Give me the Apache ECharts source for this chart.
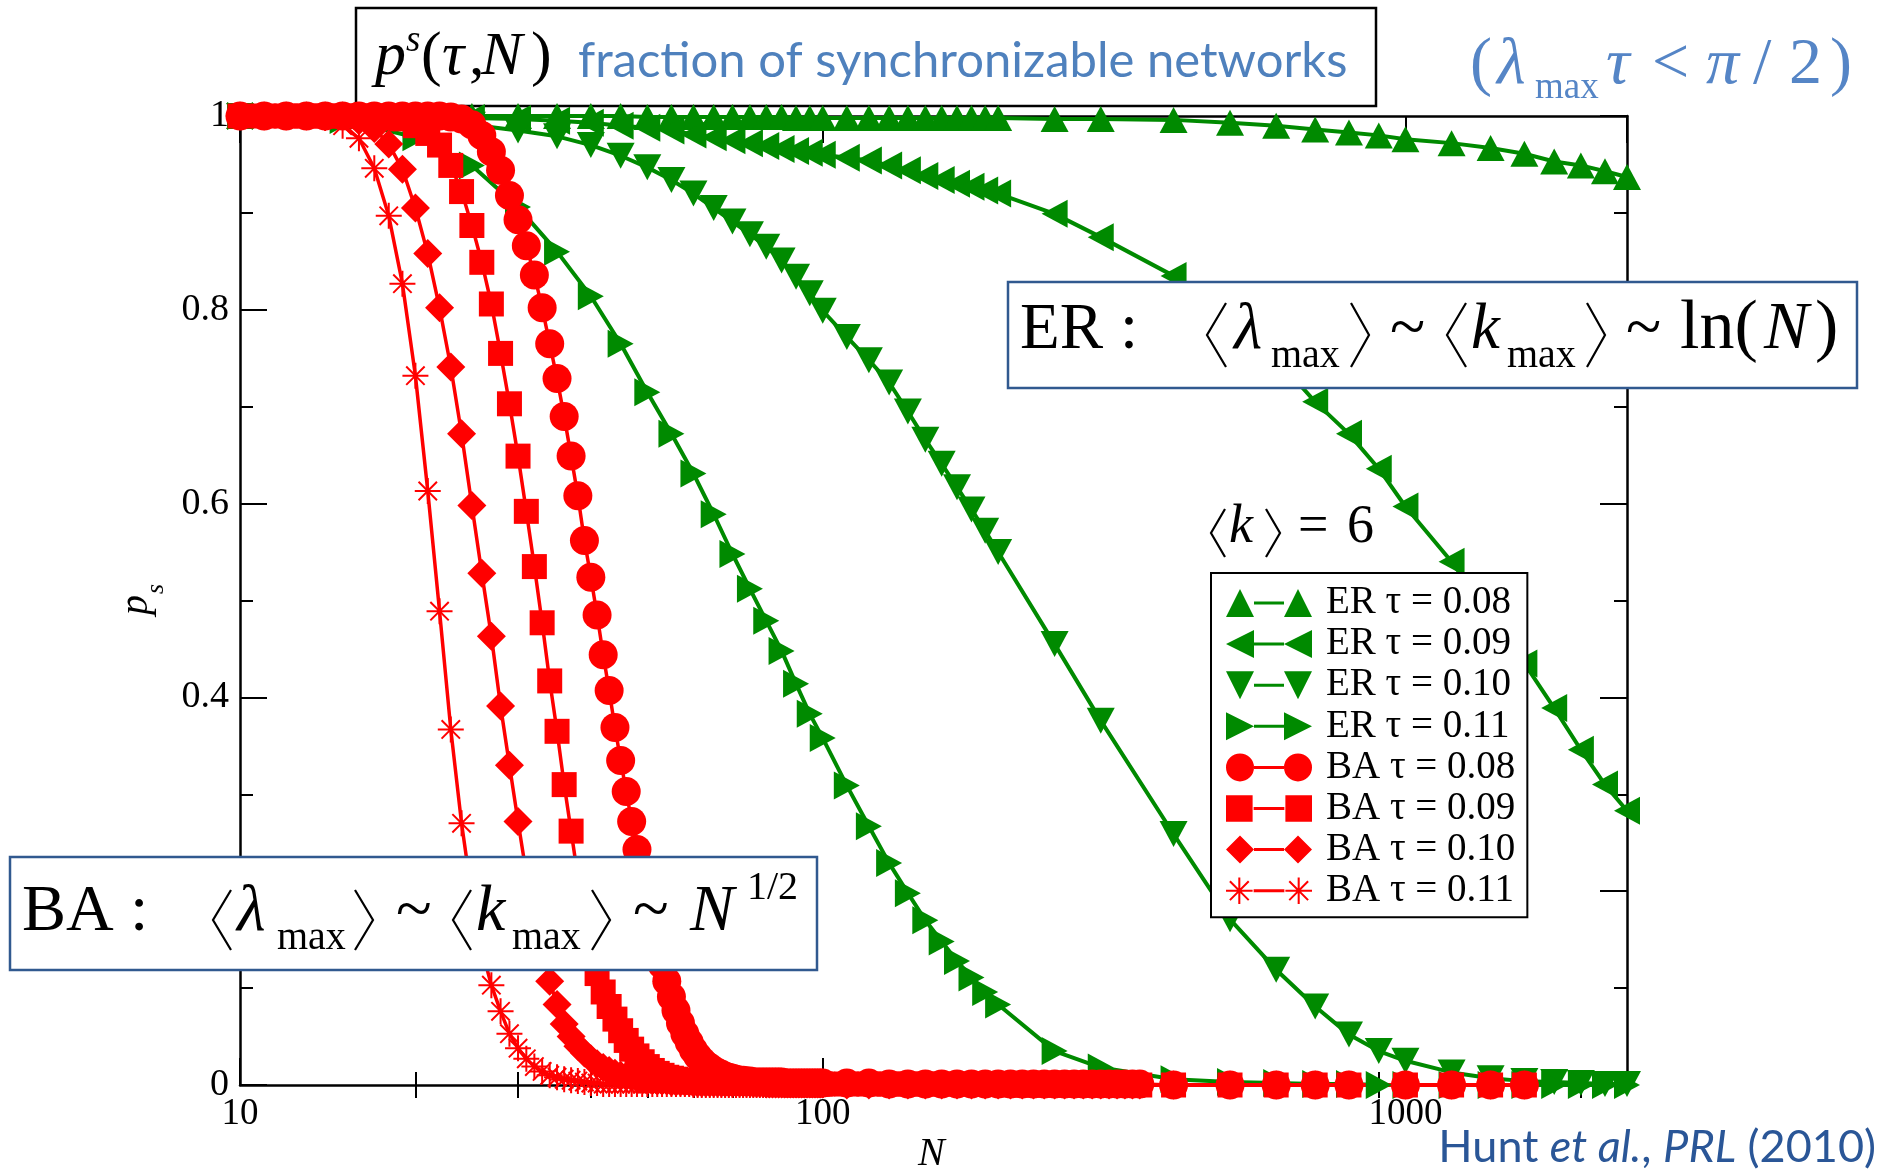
<!DOCTYPE html>
<html>
<head>
<meta charset="utf-8">
<title>fraction of synchronizable networks</title>
<script src="https://cdn.jsdelivr.net/npm/echarts@6.0.0/dist/echarts.min.js"></script>
<style>
html,body{margin:0;padding:0;background:#ffffff;}
#chart{width:1897px;height:1171px;}
</style>
</head>
<body>
<div id="chart"></div>
<script>
// ---------------- data ----------------
const erN = [10,15,20,25,30,35,40,45,50,55,60,65,70,75,80,85,90,95,100,
  110,120,130,140,150,160,170,180,190,200,
  250,300,400,500,600,700,800,900,1000,
  1200,1400,1600,1800,2000,2200,2400];
const erTau008 = [1,1,1,1,1,1,1,1,0.999,0.999,0.999,0.999,0.999,0.999,0.999,0.999,0.998,0.998,0.998,
  0.998,0.998,0.998,0.998,0.998,0.998,0.998,0.998,0.998,0.998,
  0.997,0.997,0.996,0.993,0.99,0.986,0.983,0.98,0.976,
  0.972,0.967,0.961,0.953,0.949,0.943,0.937];
const erTau009 = [1,1,0.999,0.998,0.997,0.995,0.993,0.99,0.988,0.985,0.981,0.978,0.975,0.972,0.969,0.966,0.964,0.962,0.96,
  0.957,0.954,0.949,0.944,0.938,0.934,0.93,0.927,0.923,0.92,
  0.899,0.875,0.835,0.795,0.75,0.705,0.672,0.636,0.597,
  0.54,0.485,0.435,0.389,0.346,0.31,0.283];
const erTau010 = [1,0.999,0.996,0.991,0.985,0.979,0.97,0.959,0.947,0.934,0.92,0.905,0.891,0.878,0.865,0.851,0.834,0.817,0.799,
  0.772,0.748,0.725,0.695,0.666,0.641,0.617,0.594,0.572,0.55,
  0.455,0.376,0.259,0.171,0.119,0.081,0.052,0.035,0.025,
  0.013,0.007,0.004,0.003,0.002,0.001,0.001];
const erTau011 = [1,0.996,0.978,0.949,0.906,0.86,0.814,0.765,0.715,0.672,0.631,0.589,0.548,0.512,0.479,0.448,0.414,0.383,0.358,
  0.309,0.267,0.229,0.198,0.17,0.148,0.128,0.111,0.096,0.083,
  0.035,0.018,0.006,0.003,0.002,0.001,0.001,0,0,
  0,0,0,0,0,0,0];

const baN = [10,11,12,13,14,15,16,17,18,19,
  20,21,22,23,24,25,26,27,28,29,
  30,31,32,33,34,35,36,37,38,39,
  40,41,42,43,44,45,46,47,48,49,
  50,51,52,53,54,55,56,57,58,59,
  60,61,62,63,64,65,66,67,68,69,
  70,71,72,73,74,75,76,77,78,79,
  80,81,82,83,84,85,86,87,88,89,
  90,91,92,93,94,95,96,97,98,99,
  100,
  110,120,130,140,150,160,170,180,190,200,
  210,220,230,240,250,260,270,280,290,300,
  310,320,330,340,350,
  400,500,600,700,800,1000,1200,1400,1600];
const baTau008 = [1,1,1,1,1,1,1,1,1,1,
  1,1,1,0.999,0.997,0.991,0.98,0.963,0.944,0.918,
  0.893,0.866,0.836,0.802,0.765,0.729,0.69,0.649,0.608,0.562,
  0.524,0.485,0.444,0.407,0.369,0.335,0.303,0.272,0.243,0.215,
  0.19,0.165,0.143,0.124,0.107,0.091,0.077,0.064,0.053,0.044,
  0.036,0.03,0.025,0.021,0.018,0.015,0.013,0.011,0.009,0.008,
  0.007,0.006,0.005,0.005,0.004,0.004,0.003,0.003,0.003,0.003,
  0.003,0.003,0.003,0.003,0.003,0.003,0.002,0.002,0.002,0.002,
  0.002,0.002,0.002,0.002,0.002,0.002,0.002,0.002,0.002,0.002,
  0.002,
  0.002,0.002,0.001,0.001,0.001,0.001,0.001,0.001,0.001,0.001,
  0.001,0.001,0.001,0.001,0.001,0.001,0.001,0.001,0.001,0.001,
  0.001,0.001,0.001,0.001,0.001,
  0,0,0,0,0,0,0,0,0];
const baTau009 = [1,1,1,1,1,1,1,1,1,0.997,
  0.99,0.982,0.97,0.949,0.922,0.887,0.849,0.806,0.755,0.703,
  0.649,0.592,0.535,0.477,0.417,0.365,0.31,0.262,0.215,0.175,
  0.142,0.115,0.096,0.081,0.068,0.056,0.046,0.037,0.03,0.024,
  0.019,0.015,0.012,0.01,0.008,0.007,0.006,0.005,0.004,0.004,
  0.003,0.003,0.003,0.003,0.003,0.003,0.003,0.003,0.003,0.003,
  0.002,0.002,0.002,0.002,0.002,0.002,0.002,0.002,0.002,0.002,
  0.002,0.002,0.002,0.002,0.002,0.002,0.002,0.002,0.002,0.002,
  0.001,0.001,0.001,0.001,0.001,0.001,0.001,0.001,0.001,0.001,
  0.001,
  0.001,0.001,0.001,0.001,0.001,0.001,0.001,0.001,0.001,0.001,
  0,0,0,0,0,0,0,0,0,0,
  0,0,0,0,0,
  0,0,0,0,0,0,0,0,0];
const baTau010 = [1,1,1,1,1,1,0.995,0.987,0.971,0.945,
  0.905,0.858,0.802,0.741,0.672,0.598,0.528,0.463,0.391,0.33,
  0.272,0.218,0.174,0.137,0.107,0.083,0.063,0.05,0.04,0.033,
  0.027,0.022,0.018,0.015,0.012,0.01,0.009,0.008,0.007,0.006,
  0.005,0.005,0.004,0.004,0.004,0.003,0.003,0.003,0.003,0.003,
  0.002,0.002,0.002,0.002,0.002,0.002,0.002,0.002,0.002,0.002,
  0.002,0.002,0.002,0.002,0.002,0.002,0.002,0.002,0.002,0.002,
  0.001,0.001,0.001,0.001,0.001,0.001,0.001,0.001,0.001,0.001,
  0.001,0.001,0.001,0.001,0.001,0.001,0.001,0.001,0.001,0.001,
  0.001,
  0,0,0,0,0,0,0,0,0,0,
  0,0,0,0,0,0,0,0,0,0,
  0,0,0,0,0,
  0,0,0,0,0,0,0,0,0];
const baTau011 = [1,1,1,1,0.998,0.99,0.977,0.946,0.897,0.827,
  0.732,0.613,0.489,0.367,0.27,0.195,0.14,0.103,0.076,0.053,
  0.038,0.027,0.019,0.014,0.01,0.008,0.006,0.005,0.004,0.003,
  0.002,0.002,0.001,0.001,0.001,0.001,0.001,0.001,0.001,0.001,
  0.001,0.001,0.001,0.001,0.001,0.001,0.001,0.001,0.001,0.001,
  0,0,0,0,0,0,0,0,0,0,
  0,0,0,0,0,0,0,0,0,0,
  0,0,0,0,0,0,0,0,0,0,
  0,0,0,0,0,0,0,0,0,0,
  0,
  0,0,0,0,0,0,0,0,0,0,
  0,0,0,0,0,0,0,0,0,0,
  0,0,0,0,0,
  0,0,0,0,0,0,0,0,0];

const seriesNames = ['ER τ = 0.08','ER τ = 0.09','ER τ = 0.10','ER τ = 0.11',
                     'BA τ = 0.08','BA τ = 0.09','BA τ = 0.10','BA τ = 0.11'];
const xMinorTickValues = [20,30,40,50,60,70,80,90,200,300,400,500,600,700,800,900,2000];
const xLabelValues = [10,100,1000];

// ---------------- styles ----------------
const GREEN = '#008a00', RED = '#ff0000';
const SERIF = '"Liberation Serif", "Times New Roman", Times, serif';
const SANS = 'Lato, "Open Sans", "Noto Sans", sans-serif';
const AXIS_LINE = {show:true, onZero:false, lineStyle:{color:'#000', width:2.5}};
const MAJOR_TICK = {show:true, inside:true, length:27, lineStyle:{color:'#000', width:2}};

const SYM = {
  up:    'path://M0,26L14,0L28,26Z',
  left:  'path://M0,14L26,0L26,28Z',
  down:  'path://M0,0L28,0L14,26Z',
  right: 'path://M0,0L26,14L0,28Z',
  star:  'path://M13,1L15,1L15,27L13,27Z M1,13L27,13L27,15L1,15Z M5.5,4.1L23.9,22.5L22.5,23.9L4.1,5.5Z M4.1,22.5L22.5,4.1L23.9,5.5L5.5,23.9Z'
};
const LL = ' M28,12.5L58,12.5L58,15.5L28,15.5Z';
const LEG = [
  'path://M0,28L14,0L28,28Z M58,28L72,0L86,28Z' + LL,
  'path://M0,14L28,0L28,28Z M58,14L86,0L86,28Z' + LL,
  'path://M0,0L28,0L14,28Z M58,0L86,0L72,28Z' + LL,
  'path://M0,0L28,14L0,28Z M58,0L86,14L58,28Z' + LL,
  'path://M0,14A14,14,0,1,1,28,14A14,14,0,1,1,0,14Z M58,14A14,14,0,1,1,86,14A14,14,0,1,1,58,14Z' + LL,
  'path://M1,1L27,1L27,27L1,27Z M59,1L85,1L85,27L59,27Z' + LL,
  'path://M0,14L14,0L28,14L14,28Z M58,14L72,0L86,14L72,28Z' + LL,
  'path://M13,1L15,1L15,27L13,27Z M1,13L27,13L27,15L1,15Z M5.5,4.1L23.9,22.5L22.5,23.9L4.1,5.5Z M4.1,22.5L22.5,4.1L23.9,5.5L5.5,23.9Z ' +
  'M71,1L73,1L73,27L71,27Z M59,13L85,13L85,15L59,15Z M63.5,4.1L81.9,22.5L80.5,23.9L62.1,5.5Z M62.1,22.5L80.5,4.1L81.9,5.5L63.5,23.9Z' + LL
];

function pairs(xs, ys) { return xs.map((x, i) => [x, ys[i]]); }
function mkSeries(idx, xs, ys, color, symbol, size, width) {
  return {
    name: seriesNames[idx], type:'line', data: pairs(xs, ys),
    xAxisIndex:0, yAxisIndex:0,
    symbol: symbol, symbolSize: size, showAllSymbol:true, clip:false,
    lineStyle:{color:color, width:width},
    itemStyle:{color:color, borderWidth:0},
    emphasis:{disabled:true}, silent:true, animation:false, z:2
  };
}

// ---------------- text helpers for annotations ----------------
function T(str, x, base, size, o) {
  o = o || {};
  const k = o.k != null ? o.k : 0.3375;
  return {type:'text', silent:true, z: (o.z != null ? o.z : 101), x: x, y: base - k * size,
    style:{text:str, fontFamily:(o.fam || SERIF), fontSize:size, fontStyle:(o.it ? 'italic' : 'normal'),
      fill:(o.c || '#000'), align:(o.al || 'left'), verticalAlign:'middle'}};
}
function BR(x, top, bot, w, open) {
  const mid = (top + bot) / 2;
  const pts = open ? [[x + w, top], [x, mid], [x + w, bot]] : [[x, top], [x + w, mid], [x, bot]];
  return {type:'polyline', silent:true, z:101, shape:{points:pts},
    style:{stroke:'#000', lineWidth:2.2, fill:null, lineJoin:'miter'}};
}
const BLUE_T = '#4f81bd', BLUE_TR = '#5585c6', BLUE_REF = '#2a5697', BOX_BLUE = '#31598f';
const refTok = function (it) {
  return {fontFamily:SANS, fontSize:45, fontStyle:(it ? 'italic' : 'normal'), fill:BLUE_REF};
};

const graphics = [
  // title box
  {type:'rect', silent:true, z:0, shape:{x:356, y:8, width:1020, height:98},
   style:{fill:'#fff', stroke:'#000', lineWidth:2.5}},
  T('p', 375, 79, 62, {it:true, z:1}),
  T('s', 406, 54, 37, {it:true, z:1}),
  T('(', 421, 79, 62, {z:1}),
  T('τ', 442, 79, 62, {it:true, z:1}),
  T(',', 469, 79, 62, {z:1}),
  T('N', 481, 79, 62, {it:true, z:1}),
  T(')', 531, 79, 62, {z:1}),
  T('fraction of synchronizable networks', 578, 80, 49, {fam:SANS, k:0.39, c:BLUE_T, z:1}),
  // top right condition
  T('(', 1470, 88, 66, {c:BLUE_TR}),
  T('λ', 1497, 88, 66, {it:true, c:BLUE_TR}),
  T('max', 1535, 101, 37, {c:BLUE_TR}),
  T('τ', 1606, 88, 66, {it:true, c:BLUE_TR}),
  T('<', 1652, 88, 66, {c:BLUE_TR}),
  T('π', 1706, 88, 66, {it:true, c:BLUE_TR}),
  T('/', 1753, 88, 66, {c:BLUE_TR}),
  T('2', 1789, 88, 66, {c:BLUE_TR}),
  T(')', 1830, 88, 66, {c:BLUE_TR}),
  // ER box
  {type:'rect', silent:true, z:100, shape:{x:1008, y:282, width:849, height:106},
   style:{fill:'#fff', stroke:BOX_BLUE, lineWidth:2.5}},
  T('ER', 1020, 353, 65), T(':', 1120, 353, 65),
  BR(1207, 303, 367, 19, true), T('λ', 1234, 353, 65, {it:true}), T('max', 1271, 370, 40), BR(1351, 303, 367, 18, false),
  T('~', 1390, 353, 65),
  BR(1447, 303, 367, 19, true), T('k', 1471, 353, 65, {it:true}), T('max', 1507, 370, 40), BR(1587, 303, 367, 18, false),
  T('~', 1626, 353, 65),
  T('ln(', 1680, 353, 70), T('N', 1764, 353, 67, {it:true}), T(')', 1815, 353, 70),
  // BA box
  {type:'rect', silent:true, z:100, shape:{x:10, y:857, width:807, height:113},
   style:{fill:'#fff', stroke:BOX_BLUE, lineWidth:2.5}},
  T('BA', 22, 935, 66), T(':', 130, 935, 66),
  BR(213, 890, 950, 18, true), T('λ', 237, 935, 66, {it:true}), T('max', 277, 952, 40), BR(355, 890, 950, 18, false),
  T('~', 396, 935, 66),
  BR(453, 890, 950, 18, true), T('k', 476, 935, 66, {it:true}), T('max', 512, 952, 40), BR(592, 890, 950, 18, false),
  T('~', 633, 935, 66),
  T('N', 690, 935, 66, {it:true}), T('1/2', 747, 902, 40),
  // <k> = 6
  BR(1211, 509, 557, 14, true), T('k', 1229, 546, 54, {it:true}), BR(1266, 509, 557, 14, false),
  T('=', 1298, 546, 54), T('6', 1347, 546, 54),
  // reference
  {type:'text', silent:true, z:101, x:1876, y:1165 - 0.39 * 45,
   style:{text:'{n|Hunt }{i|et al.}{n|, }{i|PRL}{n| (2010)}', align:'right', verticalAlign:'middle',
     fontFamily:SANS, fontSize:45, fill:BLUE_REF, rich:{n:refTok(false), i:refTok(true)}}},
  // axis names
  {type:'text', silent:true, z:5, x:136, y:615, rotation:Math.PI/2,
   style:{text:'p', fontFamily:SERIF, fontStyle:'italic', fontSize:40, fill:'#000', align:'left', verticalAlign:'middle'}},
  {type:'text', silent:true, z:5, x:156, y:594, rotation:Math.PI/2,
   style:{text:'s', fontFamily:SERIF, fontStyle:'italic', fontSize:26, fill:'#000', align:'left', verticalAlign:'middle'}},
  T('N', 918, 1168, 40, {it:true, z:5})
];

const chart = echarts.init(document.getElementById('chart'), null, {renderer:'canvas', width:1897, height:1171});

const logAxisBase = {type:'log', logBase:10, min:10, max:2400, splitLine:{show:false}, minorTick:{show:false}, minorSplitLine:{show:false}};

const option = {
  animation:false,
  backgroundColor:'#ffffff',
  grid:{left:240, top:116, width:1387, height:969, containLabel:false, outerBoundsMode:'none'},
  xAxis:[
    Object.assign({}, logAxisBase, {position:'bottom', axisLine:AXIS_LINE, axisTick:MAJOR_TICK,
      axisLabel:{show:true, color:'#000', fontFamily:SERIF, fontSize:37, margin:11, showMaxLabel:false,
        formatter:function (v) { const r = Math.round(v); return xLabelValues.indexOf(r) >= 0 ? String(r) : ''; }}}),
    Object.assign({}, logAxisBase, {position:'top', axisLine:AXIS_LINE, axisTick:MAJOR_TICK, axisLabel:{show:false}}),
    Object.assign({}, logAxisBase, {position:'bottom', axisLine:{show:false},
      axisTick:{show:true, inside:true, length:13, customValues:xMinorTickValues, lineStyle:{color:'#000', width:2}}, axisLabel:{show:false}}),
    Object.assign({}, logAxisBase, {position:'top', axisLine:{show:false},
      axisTick:{show:true, inside:true, length:13, customValues:xMinorTickValues, lineStyle:{color:'#000', width:2}}, axisLabel:{show:false}})
  ],
  yAxis:[
    {type:'value', min:0, max:1, interval:0.2, position:'left', axisLine:AXIS_LINE, axisTick:MAJOR_TICK,
     minorTick:{show:true, splitNumber:2, length:13, lineStyle:{color:'#000', width:2}},
     axisLabel:{show:true, color:'#000', fontFamily:SERIF, fontSize:38, margin:11},
     splitLine:{show:false}, minorSplitLine:{show:false}},
    {type:'value', min:0, max:1, interval:0.2, position:'right', axisLine:AXIS_LINE, axisTick:MAJOR_TICK,
     minorTick:{show:true, splitNumber:2, length:13, lineStyle:{color:'#000', width:2}},
     axisLabel:{show:false}, splitLine:{show:false}, minorSplitLine:{show:false}}
  ],
  legend:{
    orient:'vertical', left:1211, top:573, padding:[10.5,12,7,15], itemGap:2.1, itemWidth:86, itemHeight:28,
    backgroundColor:'#fff', borderColor:'#000', borderWidth:2, selectedMode:false, z:10,
    textStyle:{fontFamily:SERIF, fontSize:39, color:'#000', padding:[0,0,0,9]},
    data: seriesNames.map((n, i) => ({name:n, icon:LEG[i]}))
  },
  series:[
    mkSeries(0, erN, erTau008, GREEN, SYM.up, [28,26], 4),
    mkSeries(1, erN, erTau009, GREEN, SYM.left, [26,28], 4),
    mkSeries(2, erN, erTau010, GREEN, SYM.down, [28,26], 4),
    mkSeries(3, erN, erTau011, GREEN, SYM.right, [26,28], 4),
    mkSeries(4, baN, baTau008, RED, 'circle', 29, 3.5),
    mkSeries(5, baN, baTau009, RED, 'rect', 25, 3.5),
    mkSeries(6, baN, baTau010, RED, 'diamond', 29, 3.5),
    mkSeries(7, baN, baTau011, RED, SYM.star, 26, 3.5)
  ],
  graphic: graphics
};
chart.setOption(option);
</script>
</body>
</html>
